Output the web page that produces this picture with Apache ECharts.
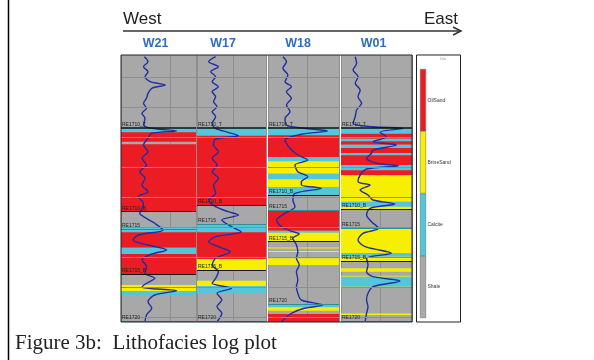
<!DOCTYPE html>
<html><head><meta charset="utf-8">
<script src="https://cdn.jsdelivr.net/npm/echarts@6/dist/echarts.min.js"></script>
<style>html,body{margin:0;padding:0;background:#fff}#c{width:594px;height:360px}</style>
</head><body><div id="c"></div>
<script>
// ---------- data ----------
const wells = ['W21', 'W17', 'W18', 'W01'];
const faciesNames = ['OilSand', 'BrineSand', 'Calcite', 'Shale'];
const depthGrid = [22, 52, 82, 112, 142, 172, 202, 232, 262];

// facies intervals: [top depth, bottom depth, facies]
const w21Facies = [[0,72.7,'Shale'],[72.7,77.3,'Calcite'],[77.3,86.7,'OilSand'],[86.7,89.3,'Shale'],[89.3,156.7,'OilSand'],[156.7,171.7,'Shale'],[171.7,177.3,'Calcite'],[177.3,192.7,'OilSand'],[192.7,199,'Calcite'],[199,219,'OilSand'],[219,230,'Shale'],[230,236,'BrineSand'],[236,240,'Calcite'],[240,267,'Shale']];
const w17Facies = [[0,72.7,'Shale'],[72.7,80.7,'Calcite'],[80.7,150,'OilSand'],[150,168.3,'Shale'],[168.3,177.3,'Calcite'],[177.3,204,'OilSand'],[204,215,'BrineSand'],[215,225.7,'Shale'],[225.7,231,'BrineSand'],[231,238.3,'Calcite'],[238.3,267,'Shale']];
const w18Facies = [[0,72.7,'Shale'],[72.7,80.3,'Calcite'],[80.3,102,'OilSand'],[102,106.3,'Calcite'],[106.3,118.7,'BrineSand'],[118.7,124.3,'Calcite'],[124.3,132,'BrineSand'],[132,140,'Calcite'],[140,155,'Shale'],[155,175.7,'OilSand'],[175.7,177.7,'Calcite'],[177.7,186.7,'BrineSand'],[186.7,192.5,'Shale'],[192.5,193.5,'BrineSand'],[193.5,196,'Shale'],[196,197,'BrineSand'],[197,203.3,'Shale'],[203.3,210,'BrineSand'],[210,249,'Shale'],[249,252.3,'Calcite'],[252.3,255.7,'BrineSand'],[255.7,259,'Shale'],[259,267,'OilSand']];
const w01Facies = [[0,72.7,'Shale'],[72.7,78.7,'Calcite'],[78.7,83.7,'OilSand'],[83.7,86.3,'Calcite'],[86.3,89.7,'OilSand'],[89.7,93,'Calcite'],[93,98,'OilSand'],[98,100.3,'Calcite'],[100.3,110.3,'OilSand'],[110.3,115.3,'Calcite'],[115.3,120.3,'OilSand'],[120.3,146.7,'BrineSand'],[146.7,151.7,'Calcite'],[151.7,154,'BrineSand'],[154,173.3,'Shale'],[173.3,198.3,'BrineSand'],[198.3,201.7,'Calcite'],[201.7,206,'BrineSand'],[206,213.3,'Shale'],[213.3,216.7,'BrineSand'],[216.7,220.7,'Shale'],[220.7,221.7,'BrineSand'],[221.7,231.7,'Calcite'],[231.7,232.7,'BrineSand'],[232.7,258.5,'Shale'],[258.5,260,'BrineSand'],[260,267,'Shale']];

// log curves: [value, depth]
const w21Log = [[31,1.7],[36,6.7],[30,11.7],[36,16.7],[32,21.7],[39,26.7],[59,30],[41,33.3],[36,38.3],[34,43.3],[30,48.3],[34,53.3],[28,58.3],[32,63.3],[30,70],[41,73.3],[74,76],[41,78.3],[36,83.3],[30,90],[36,96.7],[28,103.3],[34,110],[25,116.7],[32,123.3],[28,130],[36,136.7],[23,141.7],[30,148.3],[28,153.3],[25,158.3],[34,163.3],[45,168.3],[56,175],[23,180],[16,185],[36,190],[61,195],[41,199],[28,205],[34,211.7],[32,218.3],[45,223.3],[34,228.3],[28,232.3],[74,235.7],[45,240],[36,246.7],[41,253.3],[34,260],[32,266.7]];
const w17Log = [[27,1.7],[17,6.7],[31,11.7],[20,16.7],[27,21.7],[22,26.7],[31,31.7],[22,36.7],[27,41.7],[24,46.7],[29,51.7],[22,56.7],[27,61.7],[22,68.3],[27,73.3],[45,77.3],[60,80.7],[27,84],[24,90],[31,96.7],[22,103.3],[29,110],[22,116.7],[31,123.3],[24,130],[27,138.3],[17,145],[27,151.7],[45,156.7],[60,160],[36,165],[50,171.7],[64,176.7],[27,181.7],[17,186.7],[31,191.7],[48,196.7],[27,203.3],[22,210],[31,216.7],[27,223.3],[22,228.3],[50,233.3],[29,238.3],[36,245],[29,251.7],[36,258.3],[29,266.7]];
const w18Log = [[21,1.7],[26,6.7],[21,13.3],[28,20],[24,26.7],[33,31.7],[26,36.7],[33,43.3],[26,50],[31,56.7],[24,63.3],[26,70],[51,73.3],[84,76],[47,79.3],[24,85],[31,93.3],[42,100],[56,105],[38,110],[42,116.7],[56,121.7],[47,126.7],[47,130],[75,133.3],[38,138.3],[35,145],[38,151.7],[24,158.3],[12,165],[19,171.7],[35,176.7],[44,179],[35,183.3],[40,190],[42,196.7],[40,203.3],[44,210],[40,216.7],[42,225],[40,231.7],[42,238.3],[47,245],[77,250],[51,253.3],[33,258.3],[24,263.3],[19,266.7]];
const w01Log = [[20,1.7],[22,8.3],[17,15],[24,21.7],[20,28.3],[27,35],[24,41.7],[29,48.3],[22,55],[20,61.7],[17,68.3],[45,71.7],[88,73.3],[55,77.3],[64,81.7],[45,86.7],[78,90],[45,95],[43,98.3],[36,103.3],[50,108.3],[81,110.7],[36,114],[27,120],[24,126.7],[41,130],[27,135],[38,140],[45,145],[76,149],[41,153.3],[36,160],[43,166.7],[53,173.3],[31,178.3],[24,185],[34,191.7],[71,198.3],[36,203.3],[38,210],[36,216.7],[45,221.7],[83,226],[45,231.7],[38,238.3],[36,245],[38,251.7],[36,258.3],[34,266.7]];

// formation markers: [name, depth]
const w21Markers = [['RE1710_T',72.7],['RE1710_B',156.7],['RE1715',174],['RE1715_B',219],['RE1720',266.5]];
const w17Markers = [['RE1710_T',72.7],['RE1710_B',150],['RE1715',169],['RE1715_B',215],['RE1720',266.5]];
const w18Markers = [['RE1710_T',72.7],['RE1710_B',140],['RE1715',155],['RE1715_B',186.7],['RE1720',249]];
const w01Markers = [['RE1710_T',72.7],['RE1710_B',154],['RE1715',173.3],['RE1715_B',206],['RE1720',266.5]];

// ---------- styling / layout ----------
const faciesData = [w21Facies, w17Facies, w18Facies, w01Facies];
const logData = [w21Log, w17Log, w18Log, w01Log];
const markerData = [w21Markers, w17Markers, w18Markers, w01Markers];
const faciesColors = {OilSand:'#ec1c24', BrineSand:'#f7ef00', Calcite:'#55c6d9', Shale:'#a8a8a8'};
const trackBox = [[121,75],[197,69],[268,71],[341,71]];
const vSplit = [65, 52, 55, 55];
const labelX = [155.5, 223, 298, 373.5];

const grids = [], xAxes = [], yAxes = [], series = [];
wells.forEach((w, i) => {
  grids.push({left: trackBox[i][0], top: 55, width: trackBox[i][1], height: 267, show: true,
    backgroundColor: faciesColors.Shale, borderWidth: 0});
  xAxes.push({type:'value', gridIndex:i, min:0, max:100, interval:vSplit[i],
    axisLine:{show:false}, axisTick:{show:false}, axisLabel:{show:false},
    splitLine:{show:true, lineStyle:{color:'#8e8e8e', width:1}}});
  yAxes.push({type:'value', gridIndex:i, min:0, max:267, inverse:true,
    axisLine:{show:false}, axisTick:{show:false}, axisLabel:{show:false}, splitLine:{show:false}});
  // depth gridlines
  series.push({type:'line', xAxisIndex:i, yAxisIndex:i, data:[[0,0]], showSymbol:false,
    lineStyle:{width:0, opacity:0}, z:1, silent:true,
    markLine:{silent:true, symbol:'none', animation:false, label:{show:false},
      lineStyle:{color:'#8e8e8e', type:'solid', width:1},
      data: depthGrid.map(d => ({yAxis:d}))}});
  // facies
  series.push({type:'custom', xAxisIndex:i, yAxisIndex:i, z:2, silent:true,
    data: faciesData[i].map(r => [r[0], r[1], faciesNames.indexOf(r[2])]),
    encode:{x:2, y:[0,1]},
    renderItem:(params, api) => {
      const f = faciesNames[api.value(2)];
      if (f === 'Shale') return null;
      const a = api.coord([0, api.value(0)]);
      const b = api.coord([100, api.value(1)]);
      return {type:'rect', shape:{x:a[0], y:a[1], width:b[0]-a[0], height:b[1]-a[1]},
        style:{fill:faciesColors[f]}};
    }});
  // log curve with markers
  series.push({type:'line', xAxisIndex:i, yAxisIndex:i, z:4, data:logData[i],
    showSymbol:false, smooth:0.3, silent:true,
    lineStyle:{color:'#1f2fa3', width:1.4},
    markLine:{silent:true, symbol:'none', animation:false,
      data: markerData[i].map(([name, d]) => ({yAxis:d,
        lineStyle:{color: /_[TB]$/.test(name) ? '#111' : '#2f8f94', width: /_T$/.test(name) ? 1.6 : 1, type:'solid'},
        label:{formatter:name}})),
      label:{show:true, position:'insideStartTop', fontSize:5, color:'#222', distance:[1,1], fontFamily:'Liberation Sans'}}});
});

// legend bar
grids.push({left:420, top:69, width:6, height:249});
xAxes.push({type:'value', gridIndex:4, min:0, max:1, show:false});
yAxes.push({type:'category', gridIndex:4, data:faciesNames, inverse:true, position:'right',
  axisLine:{show:false}, axisTick:{show:false},
  axisLabel:{fontSize:5, color:'#333', margin:1.5, fontFamily:'Liberation Sans'}});
series.push({type:'bar', xAxisIndex:4, yAxisIndex:4, barWidth:'100%', silent:true,
  data: faciesNames.map(n => ({value:1, itemStyle:{color:faciesColors[n], borderColor:'#666', borderWidth:0.5}}))});

const graphic = [
  {type:'line', shape:{x1:8.5, y1:0, x2:8.5, y2:360}, style:{stroke:'#000', lineWidth:1.5}},
  {type:'text', x:123, y:19, style:{text:'West', font:'17px "Liberation Sans"', fill:'#222', textVerticalAlign:'middle'}},
  {type:'text', x:458, y:19, style:{text:'East', font:'17px "Liberation Sans"', fill:'#222', textAlign:'right', textVerticalAlign:'middle'}},
  {type:'line', shape:{x1:123, y1:31, x2:460, y2:31}, style:{stroke:'#333', lineWidth:1.5}},
  {type:'polyline', shape:{points:[[453,27],[461,31],[453,35]]}, style:{stroke:'#333', lineWidth:1.5, fill:null}},
  {type:'rect', shape:{x:121, y:55, width:291, height:267}, style:{fill:null, stroke:'#222', lineWidth:1}, z:50},
  {type:'rect', shape:{x:416.5, y:55, width:44, height:267}, style:{fill:null, stroke:'#222', lineWidth:1}, z:50},
  {type:'text', x:443, y:59, style:{text:'Litho', font:'3px "Liberation Sans"', fill:'#999', textAlign:'center', textVerticalAlign:'middle'}},
  {type:'text', x:15, y:343, style:{text:'Figure 3b:  Lithofacies log plot', font:'21px "Liberation Serif"', fill:'#222', textVerticalAlign:'middle'}}
];
wells.forEach((w, i) => graphic.push({type:'text', x:labelX[i], y:44,
  style:{text:w, font:'bold 12.5px "Liberation Sans"', fill:'#2f6cc4', textAlign:'center', textVerticalAlign:'middle'}}));

const chart = echarts.init(document.getElementById('c'), null, {renderer:'canvas'});
chart.setOption({animation:false, backgroundColor:'#fff', grid:grids, xAxis:xAxes, yAxis:yAxes, series, graphic});
</script></body></html>
